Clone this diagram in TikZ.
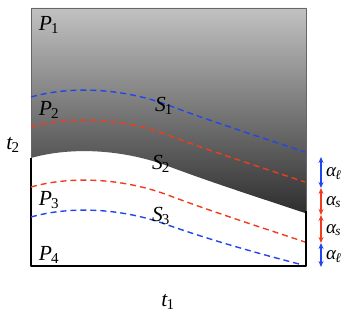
\documentclass[tikz,border=0pt]{standalone}
\usepackage{fontspec}
\setmainfont{Liberation Serif}
\usetikzlibrary{arrows.meta}
\definecolor{wblue}{RGB}{35,70,235}
\definecolor{wred}{RGB}{240,60,30}
\newcommand{\lab}[2]{\textit{#1}\kern-1pt\textsubscript{#2}}
% one level curve, left end at height #1
\newcommand{\wave}[1]{(31,#1) .. controls (70,{#1-11}) and (120,{#1-9}) .. (165,{#1+7})
  .. controls (210,{#1+24}) and (260,{#1+40}) .. (305,{#1+55})}
\tikzset{
  level/.style={dash pattern=on 6pt off 4pt, line width=1.4pt},
  gap/.style={{Stealth[length=6pt,width=5pt]}-{Stealth[length=6pt,width=5pt]}, line width=1.2pt},
  txt/.style={font=\fontsize{21.5}{26}\selectfont, inner sep=0pt},
  gtxt/.style={font=\fontsize{19}{23}\selectfont, inner sep=0pt, anchor=west},
}
\begin{document}
\begin{tikzpicture}[x=1pt, y=-1pt, line cap=butt, line join=round]
  \useasboundingbox (0,0) rectangle (343,315);
  % A. Vung toi phia tren S2
  \shade[top color=black!24, bottom color=black!82]
    \wave{158} -- (306,211) -- (306,8) -- (31,8) -- cycle;
  \draw[black!60, line width=0.8pt] (31,158) -- (31,8) -- (306,8) -- (306,211);
  \draw[black, line width=1.4pt] (31,158) -- (31,266) -- (306,266) -- (306,211);

  % B. Cac duong muc
  \draw[level, wblue] \wave{97};
  \draw[level, wred] \wave{127};
  \draw[level, wred] \wave{187};
  \draw[level, wblue] (31,217) .. controls (70,206) and (120,208) .. (165,224)
    .. controls (210,240) and (260,254) .. (303,265);

  % C. Nhan
  \node[txt] (p1) at (49,25) {\lab{P}{1}};
  \node[txt] (p2) at (49,110) {\lab{P}{2}};
  \node[txt] (p3) at (49,200) {\lab{P}{3}};
  \node[txt] (p4) at (49,255) {\lab{P}{4}};
  \node[txt] (s1) at (164,106) {\lab{S}{1}};
  \node[txt] (s2) at (161,164) {\lab{S}{2}};
  \node[txt] (s3) at (161,216) {\lab{S}{3}};
  \node[txt] (t2) at (13,145) {\lab{t}{2}};
  \node[txt] (t1) at (168,302) {\lab{t}{1}};

  % D. Khoang cach alpha
  \coordinate (g0) at (321,157);
  \coordinate (g1) at (321,188);
  \coordinate (g2) at (321,215);
  \coordinate (g3) at (321,243);
  \coordinate (g4) at (321,267);
  \draw[gap, wblue] (g0) -- (g1);
  \draw[gap, wred] (g1) -- (g2);
  \draw[gap, wred] (g2) -- (g3);
  \draw[gap, wblue] (g3) -- (g4);
  \node[gtxt] (a1) at (326,174) {\lab{α}{\textit{ℓ}}};
  \node[gtxt] (a2) at (326,202) {\lab{α}{\textit{s}}};
  \node[gtxt] (a3) at (326,230) {\lab{α}{\textit{s}}};
  \node[gtxt] (a4) at (326,257) {\lab{α}{\textit{ℓ}}};
\end{tikzpicture}
\end{document}
